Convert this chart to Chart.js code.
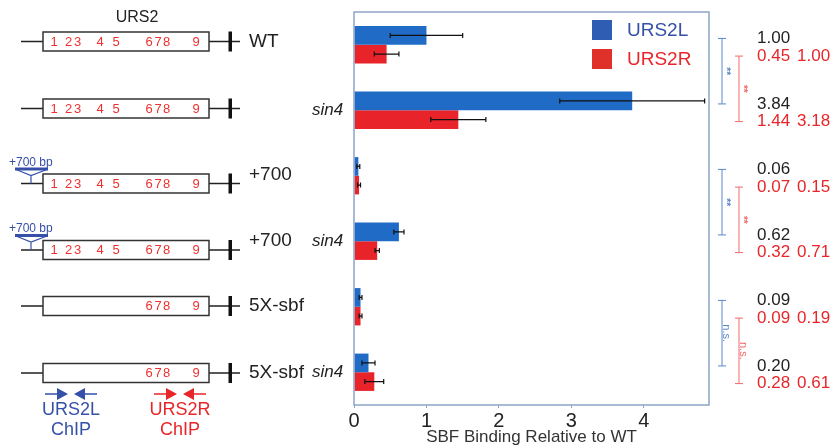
<!DOCTYPE html>
<html>
<head>
<meta charset="utf-8">
<script src="https://cdn.jsdelivr.net/npm/chart.js@4.4.1/dist/chart.umd.min.js"></script>
<style>html,body{margin:0;background:#fff}</style>
</head>
<body>
<canvas id="chart" width="833" height="448"></canvas>
<script>
// data
const strains = ['WT', 'sin4', '+700', '+700 sin4', '5X-sbf', '5X-sbf sin4'];
const constructLabels = ['WT', '', '+700', '+700', '5X-sbf', '5X-sbf'];
const mutantLabels = ['', 'sin4', '', 'sin4', '', 'sin4'];
const urs2L = [1.00, 3.84, 0.06, 0.62, 0.09, 0.20];
const urs2R = [0.45, 1.44, 0.07, 0.32, 0.09, 0.28];
const urs2LErr = [0.50, 1.00, 0.02, 0.07, 0.02, 0.09];
const urs2RErr = [0.17, 0.38, 0.02, 0.03, 0.02, 0.13];
const urs2RNorm = [1.00, 3.18, 0.15, 0.71, 0.19, 0.61];
const sigLabels = ['**', '**', 'n.s.'];
const allSites = ['1', '2', '3', '4', '5', '6', '7', '8', '9'];
const sbfSites = ['6', '7', '8', '9'];
const hasInsert = [false, false, true, true, false, false];

const BLUE = '#1f6bc6', RED = '#e8232a';
const TXT_BLUE = '#3550a8', TXT_RED = '#e8262a';
const FONT = '"Liberation Sans", Arial, sans-serif';

// diagram layout (pixels)
const rowY = [41.5, 108.5, 183.5, 250, 306, 373];
const siteX = {'1': 54, '2': 68.5, '3': 77.5, '4': 100, '5': 116, '6': 149, '7': 158, '8': 166.5, '9': 196};

function drawConstruct(ctx, i) {
  const y = rowY[i];
  ctx.save();
  ctx.strokeStyle = '#222';
  ctx.lineWidth = 1.3;
  ctx.beginPath();
  ctx.moveTo(21, y); ctx.lineTo(43, y);
  ctx.moveTo(209, y); ctx.lineTo(240, y);
  ctx.stroke();
  ctx.strokeStyle = '#333';
  ctx.lineWidth = 1.5;
  ctx.strokeRect(43, y - 9.5, 166, 19);
  ctx.fillStyle = '#111';
  ctx.fillRect(228.5, y - 10, 3.5, 20);
  ctx.fillStyle = '#ee3030';
  ctx.font = '13px ' + FONT;
  ctx.textAlign = 'center';
  ctx.textBaseline = 'middle';
  const s = (i >= 4) ? sbfSites : allSites;
  s.forEach(d => ctx.fillText(d, siteX[d], y + 0.5));
  if (hasInsert[i]) {
    ctx.strokeStyle = '#3550a8';
    ctx.lineWidth = 3;
    ctx.beginPath();
    ctx.moveTo(15, y - 14.5); ctx.lineTo(48, y - 14.5);
    ctx.stroke();
    ctx.lineWidth = 1.2;
    ctx.beginPath();
    ctx.moveTo(16, y - 14); ctx.lineTo(31, y - 8);
    ctx.lineTo(47, y - 14);
    ctx.moveTo(31, y - 8); ctx.lineTo(31, y);
    ctx.stroke();
    ctx.fillStyle = '#3550a8';
    ctx.font = '12px ' + FONT;
    ctx.textAlign = 'left';
    ctx.fillText('+700 bp', 9, y - 21);
  }
  ctx.fillStyle = '#222';
  ctx.font = '19px ' + FONT;
  ctx.textAlign = 'left';
  ctx.fillText(constructLabels[i], 249, hasInsert[i] ? y - 9 : y);
  ctx.restore();
}

function drawChipArrows(ctx, x0, x1, y, color, name) {
  ctx.save();
  ctx.strokeStyle = color;
  ctx.fillStyle = color;
  ctx.lineWidth = 1.5;
  const mid = (x0 + x1) / 2;
  ctx.beginPath();
  ctx.moveTo(x0, y); ctx.lineTo(mid - 6, y);
  ctx.moveTo(mid + 6, y); ctx.lineTo(x1, y);
  ctx.stroke();
  ctx.beginPath();
  ctx.moveTo(mid - 14, y - 6); ctx.lineTo(mid - 3, y); ctx.lineTo(mid - 14, y + 6); ctx.closePath();
  ctx.moveTo(mid + 14, y - 6); ctx.lineTo(mid + 3, y); ctx.lineTo(mid + 14, y + 6); ctx.closePath();
  ctx.fill();
  ctx.font = '18px ' + FONT;
  ctx.textAlign = 'center';
  ctx.textBaseline = 'middle';
  ctx.fillText(name, mid, y + 16);
  ctx.fillText('ChIP', mid, y + 36);
  ctx.restore();
}

function bracket(ctx, x, y0, y1, color, label) {
  ctx.save();
  ctx.strokeStyle = color;
  ctx.lineWidth = 1;
  ctx.beginPath();
  ctx.moveTo(x, y0); ctx.lineTo(x, y1);
  ctx.moveTo(x - 4, y0); ctx.lineTo(x + 4, y0);
  ctx.moveTo(x - 4, y1); ctx.lineTo(x + 4, y1);
  ctx.stroke();
  ctx.translate(x + 4, (y0 + y1) / 2);
  ctx.rotate(Math.PI / 2);
  ctx.fillStyle = color;
  ctx.font = (label === '**' ? 'bold 10px ' : '11px ') + FONT;
  ctx.textAlign = 'center';
  ctx.textBaseline = 'middle';
  ctx.fillText(label, 0, 0);
  ctx.restore();
}

const figurePlugin = {
  id: 'figure',
  afterDraw(chart) {
    const ctx = chart.ctx;
    const a = chart.chartArea;
    const xs = chart.scales.x;
    const metaL = chart.getDatasetMeta(0), metaR = chart.getDatasetMeta(1);

    // error bars
    ctx.save();
    ctx.strokeStyle = '#111';
    ctx.lineWidth = 1.2;
    [[metaL, urs2L, urs2LErr], [metaR, urs2R, urs2RErr]].forEach(([meta, vals, errs]) => {
      meta.data.forEach((bar, i) => {
        const lo = xs.getPixelForValue(vals[i] - errs[i]);
        const hi = xs.getPixelForValue(vals[i] + errs[i]);
        ctx.beginPath();
        ctx.moveTo(lo, bar.y); ctx.lineTo(hi, bar.y);
        ctx.moveTo(lo, bar.y - 2.5); ctx.lineTo(lo, bar.y + 2.5);
        ctx.moveTo(hi, bar.y - 2.5); ctx.lineTo(hi, bar.y + 2.5);
        ctx.stroke();
      });
    });
    ctx.restore();

    // plot frame
    ctx.save();
    ctx.strokeStyle = '#8ea4c6';
    ctx.lineWidth = 1.5;
    ctx.strokeRect(a.left, a.top, a.right - a.left, a.bottom - a.top);
    ctx.restore();

    // legend
    ctx.save();
    ctx.fillStyle = '#2f5db4';
    ctx.fillRect(592, 20, 20, 20);
    ctx.fillStyle = '#e0302a';
    ctx.fillRect(592, 49, 20, 20);
    ctx.font = '19px ' + FONT;
    ctx.textBaseline = 'middle';
    ctx.fillStyle = TXT_BLUE;
    ctx.fillText('URS2L', 627, 30.5);
    ctx.fillStyle = TXT_RED;
    ctx.fillText('URS2R', 627, 59.5);
    ctx.restore();

    // mutant labels
    ctx.save();
    ctx.font = 'italic 17px ' + FONT;
    ctx.fillStyle = '#222';
    ctx.textBaseline = 'middle';
    strains.forEach((s, i) => {
      if (!mutantLabels[i]) return;
      const yc = (metaL.data[i].y + metaR.data[i].y) / 2;
      ctx.fillText(mutantLabels[i], 312, yc);
    });
    ctx.restore();

    // values on the right
    ctx.save();
    ctx.font = '17px ' + FONT;
    ctx.textBaseline = 'middle';
    const ly = [], ry = [];
    strains.forEach((s, i) => {
      const yl = metaL.data[i].y + 3, yr = metaR.data[i].y + 2;
      ly.push(yl); ry.push(yr);
      ctx.fillStyle = '#222';
      ctx.fillText(urs2L[i].toFixed(2), 757, yl);
      ctx.fillStyle = TXT_RED;
      ctx.fillText(urs2R[i].toFixed(2), 757, yr);
      ctx.fillText(urs2RNorm[i].toFixed(2), 797, yr);
    });
    ctx.restore();
    sigLabels.forEach((lab, k) => {
      bracket(ctx, 722, ly[2 * k], ly[2 * k + 1], '#5a88c8', lab);
      bracket(ctx, 739, ry[2 * k], ry[2 * k + 1], '#f06a6a', lab);
    });

    // construct diagrams
    ctx.save();
    ctx.fillStyle = '#222';
    ctx.font = '16px ' + FONT;
    ctx.textAlign = 'center';
    ctx.textBaseline = 'middle';
    ctx.fillText('URS2', 137, 18);
    ctx.restore();
    strains.forEach((s, i) => drawConstruct(ctx, i));
    drawChipArrows(ctx, 45, 97, 394, TXT_BLUE, 'URS2L');
    drawChipArrows(ctx, 154, 206, 394, TXT_RED, 'URS2R');
  }
};

new Chart(document.getElementById('chart'), {
  type: 'bar',
  data: {
    labels: strains,
    datasets: [
      { label: 'URS2L', data: urs2L, backgroundColor: BLUE },
      { label: 'URS2R', data: urs2R, backgroundColor: RED }
    ]
  },
  options: {
    indexAxis: 'y',
    responsive: false,
    animation: false,
    categoryPercentage: 0.57,
    barPercentage: 1.0,
    layout: { padding: { left: 354, right: 124, top: 12, bottom: 0 } },
    plugins: { legend: { display: false }, tooltip: { enabled: false } },
    scales: {
      y: { display: false },
      x: {
        min: 0,
        max: 4.9,
        afterFit(scale) { scale.height = 43; },
        border: { display: false },
        grid: { drawOnChartArea: false, drawTicks: true, tickLength: 3, color: '#8ea4c6' },
        ticks: {
          stepSize: 1,
          includeBounds: false,
          padding: 1,
          color: '#222',
          font: { family: FONT, size: 20 }
        },
        title: {
          display: true,
          text: 'SBF Binding Relative to WT',
          color: '#333',
          padding: { top: 0, bottom: 0 },
          font: { family: FONT, size: 17 }
        }
      }
    }
  },
  plugins: [figurePlugin]
});
</script>
</body>
</html>
